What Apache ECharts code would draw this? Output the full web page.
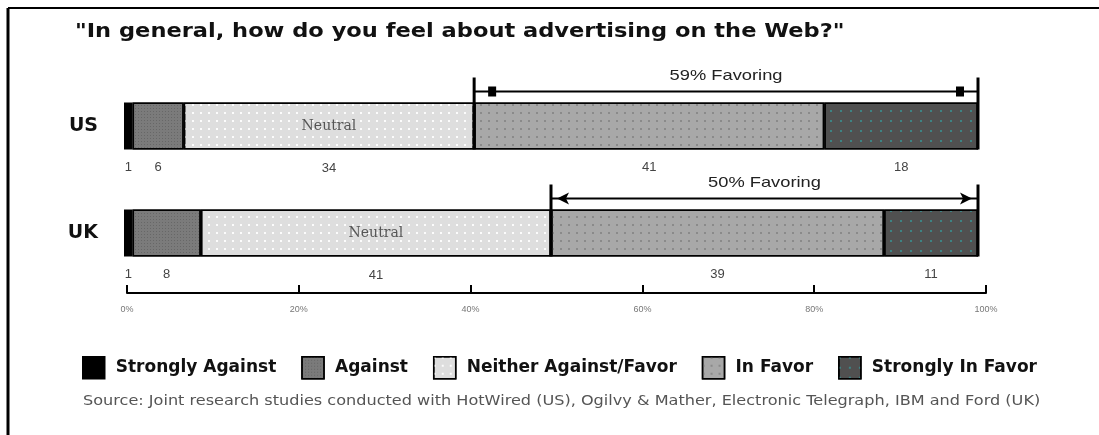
<!DOCTYPE html>
<html>
<head>
<meta charset="utf-8">
<script src="https://cdn.jsdelivr.net/npm/echarts@6/dist/echarts.min.js"></script>
<style>
html,body{margin:0;padding:0;background:#fff;}
#chart{width:1099px;height:435px;}
</style>
</head>
<body>
<div id="chart"></div>
<script>
// ---- data ----
const categories = ['US', 'UK'];
const seriesNames = ['Strongly Against', 'Against', 'Neither Against/Favor', 'In Favor', 'Strongly In Favor'];
const stronglyAgainst = [1, 1];
const against = [6, 8];
const neutral = [34, 41];
const inFavor = [41, 39];
const stronglyInFavor = [18, 11];
const axisTickLabels = ['0%', '20%', '40%', '60%', '80%', '100%'];
const titleText = '"In general, how do you feel about advertising on the Web?"';
const sourceText = 'Source: Joint research studies conducted with HotWired (US), Ogilvy & Mather, Electronic Telegraph, IBM and Ford (UK)';

// ---- derived ----
const favorStart = categories.map((c, i) => stronglyAgainst[i] + against[i] + neutral[i]);
const favorEnd = categories.map((c, i) => favorStart[i] + inFavor[i] + stronglyInFavor[i]);
const favorLabels = categories.map((c, i) => (inFavor[i] + stronglyInFavor[i]) + '% Favoring');
const bracketData = categories.map((c, i) => [favorStart[i], favorEnd[i], i]);

// ---- styles ----
const BAR_W = 47;
const markerStyle = ['square', 'arrow'];
const numLabel = { show: true, position: 'bottom', distance: 11, color: '#444', fontSize: 13, fontFamily: 'Liberation Sans' };
const segStyles = [
  { color: '#000000' },
  { color: '#7b7b7b', decal: { symbol: 'rect', symbolSize: 1, color: 'rgba(90,90,90,0.6)', dashArrayX: [1, 2], dashArrayY: [1, 2] } },
  { color: '#dedede', decal: { symbol: 'rect', symbolSize: 1, color: 'rgba(255,255,255,0.9)', dashArrayX: [2, 6], dashArrayY: [2, 6] } },
  { color: '#a8a8a8', decal: { symbol: 'rect', symbolSize: 1, color: 'rgba(130,130,130,0.8)', dashArrayX: [2, 6], dashArrayY: [2, 6] } },
  { color: '#505050', decal: { symbol: 'rect', symbolSize: 1, color: 'rgba(60,135,135,0.95)', dashArrayX: [2, 8], dashArrayY: [2, 8] } }
];
const values = [stronglyAgainst, against, neutral, inFavor, stronglyInFavor];

const chart = echarts.init(document.getElementById('chart'), null, { renderer: 'canvas' });

const barSeries = seriesNames.map((name, k) => {
  const s = {
    name: name,
    type: 'bar',
    stack: 'total',
    barWidth: BAR_W,
    xAxisIndex: 0,
    yAxisIndex: 0,
    data: values[k],
    itemStyle: Object.assign({ borderColor: '#000', borderWidth: 1.5 }, segStyles[k]),
    label: numLabel,
    emphasis: { disabled: true }
  };
  if (k === 2) {
    s.label = {
      show: true,
      position: 'inside',
      formatter: (p) => '{s| }\n{n|Neutral}\n{v|' + p.value + '}',
      rich: {
        s: { lineHeight: 68, fontSize: 13 },
        n: { lineHeight: 16, fontSize: 14, color: '#555', fontFamily: 'DejaVu Serif' },
        v: { lineHeight: 68, fontSize: 13, color: '#444', fontFamily: 'Liberation Sans' }
      }
    };
  }
  return s;
});

const bracketSeries = {
  type: 'custom',
  xAxisIndex: 0,
  yAxisIndex: 0,
  z: 10,
  clip: false,
  encode: { x: [0, 1], y: 2 },
  data: bracketData,
  renderItem: function (params, api) {
    const i = params.dataIndex;
    const s = api.coord([api.value(0), api.value(2)]);
    const e = api.coord([api.value(1), api.value(2)]);
    const top = s[1] - BAR_W / 2;
    const bottom = s[1] + BAR_W / 2;
    const lineY = top - 11;
    const vTop = top - 25;
    const children = [
      { type: 'line', shape: { x1: s[0], y1: vTop, x2: s[0], y2: bottom }, style: { stroke: '#000', lineWidth: 3 } },
      { type: 'line', shape: { x1: e[0], y1: vTop, x2: e[0], y2: bottom }, style: { stroke: '#000', lineWidth: 3 } },
      { type: 'line', shape: { x1: s[0], y1: lineY, x2: e[0], y2: lineY }, style: { stroke: '#000', lineWidth: 2 } },
      { type: 'text', x: (s[0] + e[0]) / 2, y: top - 27, scaleX: 1.22, style: { text: favorLabels[i], x: 0, y: 0, align: 'center', verticalAlign: 'middle', font: '15px "Liberation Sans"', fill: '#222' } }
    ];
    if (markerStyle[i] === 'square') {
      children.push({ type: 'rect', shape: { x: s[0] + 14, y: lineY - 5, width: 8, height: 10 }, style: { fill: '#000' } });
      children.push({ type: 'rect', shape: { x: e[0] - 22, y: lineY - 5, width: 8, height: 10 }, style: { fill: '#000' } });
    } else {
      children.push({ type: 'polygon', shape: { points: [[s[0] + 6, lineY], [s[0] + 18, lineY - 6], [s[0] + 15, lineY], [s[0] + 18, lineY + 6]] }, style: { fill: '#000' } });
      children.push({ type: 'polygon', shape: { points: [[e[0] - 6, lineY], [e[0] - 18, lineY - 6], [e[0] - 15, lineY], [e[0] - 18, lineY + 6]] }, style: { fill: '#000' } });
    }
    return { type: 'group', children: children };
  }
};

const option = {
  animation: false,
  backgroundColor: '#fff',
  grid: [
    { left: 124, width: 854, top: 72.5, height: 214 },
    { left: 127, width: 859, top: 200, height: 93 }
  ],
  xAxis: [
    { gridIndex: 0, type: 'value', min: 0, max: 100, show: false },
    {
      gridIndex: 1, type: 'value', min: 0, max: 100, interval: 20,
      axisLine: { show: true, lineStyle: { color: '#000', width: 2 } },
      axisTick: { show: true, inside: true, length: 8, lineStyle: { color: '#000', width: 2 } },
      axisLabel: { formatter: (v, idx) => axisTickLabels[idx], fontSize: 9, color: '#777', margin: 12, fontFamily: 'Liberation Sans' },
      splitLine: { show: false }
    }
  ],
  yAxis: [
    {
      gridIndex: 0, type: 'category', data: categories, inverse: true,
      axisLine: { show: false }, axisTick: { show: false },
      axisLabel: { fontSize: 19, fontWeight: 'bold', color: '#111', margin: 26, fontFamily: 'DejaVu Sans' }
    },
    { gridIndex: 1, type: 'value', show: false, min: 0, max: 1 }
  ],
  legend: {
    left: 82, top: 356, padding: 0,
    icon: 'rect',
    itemWidth: 22, itemHeight: 22, itemGap: 25,
    data: seriesNames,
    textStyle: { fontSize: 17, fontWeight: 'bold', color: '#111', fontFamily: 'DejaVu Sans', padding: [0, 0, 0, 6] },
    itemStyle: { borderColor: '#000', borderWidth: 1.5 },
    selectedMode: false
  },
  graphic: [
    { type: 'line', shape: { x1: 8, y1: 8, x2: 1099, y2: 8 }, style: { stroke: '#000', lineWidth: 2 } },
    { type: 'line', shape: { x1: 8, y1: 8, x2: 8, y2: 435 }, style: { stroke: '#000', lineWidth: 3 } },
    { type: 'text', x: 75, y: 32, scaleX: 1.126, style: { text: titleText, x: 0, y: 0, verticalAlign: 'middle', font: 'bold 20px "DejaVu Sans"', fill: '#111' } },
    { type: 'text', x: 83, y: 401, scaleX: 1.15, style: { text: sourceText, x: 0, y: 0, verticalAlign: 'middle', font: '14px "DejaVu Sans"', fill: '#555' } }
  ],
  series: barSeries.concat([bracketSeries])
};

chart.setOption(option);
</script>
</body>
</html>
